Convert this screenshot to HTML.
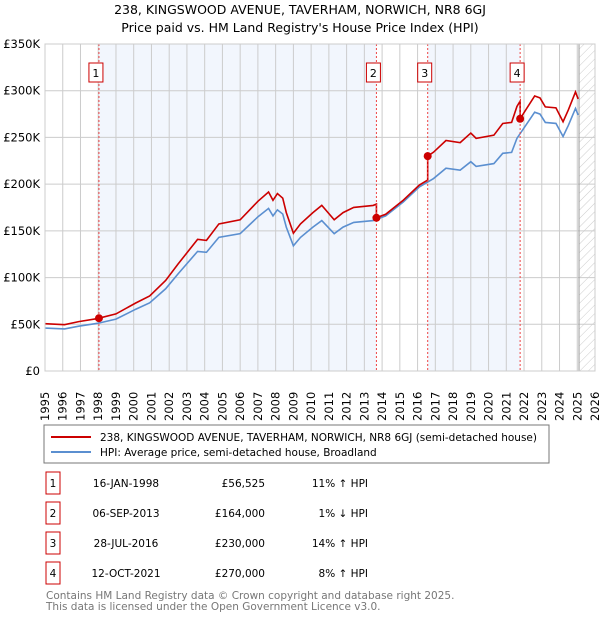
<!DOCTYPE html>
<html><head><meta charset="utf-8"><style>
body{margin:0;background:#fff;font-family:"Liberation Sans","DejaVu Sans",sans-serif;}
svg text{font-family:"DejaVu Sans","Liberation Sans",sans-serif;}
</style></head><body>
<svg id="c" width="600" height="620" viewBox="0 0 600 620" xmlns="http://www.w3.org/2000/svg">
<text x="300" y="14" text-anchor="middle" font-size="12.5">238, KINGSWOOD AVENUE, TAVERHAM, NORWICH, NR8 6GJ</text>
<text x="300" y="32" text-anchor="middle" font-size="12.5">Price paid vs. HM Land Registry's House Price Index (HPI)</text>
<g id="plot"></g>
<rect x="44" y="425" width="505" height="38" fill="#fff" stroke="#777"/>
<line x1="51" y1="437" x2="91" y2="437" stroke="#cc0000" stroke-width="2"/>
<text x="100" y="441" font-size="10.5">238, KINGSWOOD AVENUE, TAVERHAM, NORWICH, NR8 6GJ (semi-detached house)</text>
<line x1="51" y1="452" x2="91" y2="452" stroke="#5b8fd0" stroke-width="2"/>
<text x="100" y="456" font-size="10.5">HPI: Average price, semi-detached house, Broadland</text>
<g id="table" font-size="10.5"></g>
<text x="46" y="599" font-size="10.5" fill="#777">Contains HM Land Registry data © Crown copyright and database right 2025.</text>
<text x="46" y="610" font-size="10.5" fill="#777">This data is licensed under the Open Government Licence v3.0.</text>
</svg>
<script>
const hpiYears=[1995.0,1996.1,1996.9,1997.96,1999.0,2000.1,2000.9,2001.8,2002.5,2003.6,2004.1,2004.8,2006.0,2006.5,2007.0,2007.6,2007.85,2008.1,2008.4,2008.6,2009.0,2009.4,2010.1,2010.6,2011.3,2011.8,2012.4,2013.5,2014.2,2015.2,2016.1,2016.9,2017.6,2018.4,2019.0,2019.3,2020.3,2020.8,2021.3,2021.6,2022.1,2022.6,2022.9,2023.2,2023.8,2024.2,2024.5,2024.9,2025.05];
const hpiValues=[46,45,48,51,55.5,66,73,88,104,128,127,143,147,156,165,174,166,172.5,168,154,134,143,154,161,147,154,159,161,166,181,197,206,217,215,224,219,222,233,234,249,263,277,275,266,265,251,263,281,274];
const saleDates=[1998.04,2013.68,2016.57,2021.78];
const salePrices=[56.525,164,230,270];
const saleLabels=["1","2","3","4"];
const saleDateText=["16-JAN-1998","06-SEP-2013","28-JUL-2016","12-OCT-2021"];
const salePriceText=["£56,525","£164,000","£230,000","£270,000"];
const saleHpiText=["11% \u2191 HPI","1% \u2193 HPI","14% \u2191 HPI","8% \u2191 HPI"];
const yTicks=[0,50,100,150,200,250,300,350];
const yTickLabels=["£0","£50K","£100K","£150K","£200K","£250K","£300K","£350K"];
const xTicks=[1995,1996,1997,1998,1999,2000,2001,2002,2003,2004,2005,2006,2007,2008,2009,2010,2011,2012,2013,2014,2015,2016,2017,2018,2019,2020,2021,2022,2023,2024,2025,2026];

const NS="http://www.w3.org/2000/svg";
const X0=45,X1=595,Y0=371,Y1=44;
const xs=y=>X0+(y-1995)/31*(X1-X0);
const ys=v=>Y0-v/350*(Y0-Y1);
const plot=document.getElementById('plot');
function mk(t,a,p){const e=document.createElementNS(NS,t);for(const k in a)e.setAttribute(k,a[k]);(p||plot).appendChild(e);return e;}
function hpiAt(t){if(t<=hpiYears[0])return hpiValues[0];for(let i=1;i<hpiYears.length;i++){if(t<=hpiYears[i]){const f=(t-hpiYears[i-1])/(hpiYears[i]-hpiYears[i-1]);return hpiValues[i-1]+f*(hpiValues[i]-hpiValues[i-1]);}}return hpiValues[hpiValues.length-1];}

// shading
for(let i=0;i<saleDates.length;i+=2){
  const e=mk('rect',{x:xs(saleDates[i]),y:Y1,width:xs(saleDates[i+1])-xs(saleDates[i]),height:Y0-Y1,fill:'#f2f6fd'});
  
  
}
// hatch future
const defs=mk('defs',{});
const pat=mk('pattern',{id:'h',width:6,height:6,patternUnits:'userSpaceOnUse',patternTransform:'rotate(45)'},defs);
mk('line',{x1:0,y1:0,x2:0,y2:6,stroke:'#ccc','stroke-width':1},pat);
const hx=xs(2025.1);
const hr=mk('rect',{x:hx,y:Y1,width:X1-hx,height:Y0-Y1,fill:'url(#h)'});


// grid
xTicks.forEach(t=>{
  const l=mk('line',{x1:xs(t),x2:xs(t),y1:Y1,y2:Y0,stroke:'#ccc','stroke-width':1});
  
  
  const tx=mk('text',{x:0,y:0,'font-size':11.5,transform:`translate(${xs(t)+4},${Y0+50}) rotate(-90)`});
  tx.textContent=t;
  
  
});
yTicks.forEach((t,i)=>{
  const l=mk('line',{x1:X0,x2:X1,y1:ys(t),y2:ys(t),stroke:'#ccc','stroke-width':1});
  
  
  const tx=mk('text',{x:40,y:ys(t)+4,'font-size':11.5,'text-anchor':'end'});
  tx.textContent=yTickLabels[i];
  
  
});
mk('line',{x1:hx,x2:hx,y1:Y1,y2:Y0,stroke:'#999','stroke-width':1});
// HPI line
const hp=mk('polyline',{points:hpiYears.map((y,i)=>xs(y)+','+ys(hpiValues[i])).join(' '),fill:'none',stroke:'#5b8fd0','stroke-width':1.6});


// property line derived from sales indexed by HPI
const ratios=saleDates.map((d,i)=>salePrices[i]/hpiAt(d));
const segT=[hpiYears[0]].concat(hpiYears);
let pts=[];
const allT=hpiYears.concat(saleDates).sort((a,b)=>a-b);
allT.forEach(t=>{
  let k=0;for(let i=0;i<saleDates.length;i++)if(t>=saleDates[i])k=i;
  if(saleDates.indexOf(t)>0){const pk=k-1;pts.push(xs(t)+','+ys(hpiAt(t)*ratios[pk]));}
  pts.push(xs(t)+','+ys(hpiAt(t)*ratios[k]));
});
const rp=mk('polyline',{points:pts.join(' '),fill:'none',stroke:'#cc0000','stroke-width':1.6});


// sales
saleDates.forEach((d,i)=>{
  const l=mk('line',{x1:xs(d),x2:xs(d),y1:Y1,y2:Y0,stroke:'#ee4444','stroke-width':1,'stroke-dasharray':'2,2'});
  
  
  const c=mk('circle',{cx:xs(d),cy:ys(salePrices[i]),r:4,fill:'#cc0000'});
  
  
  const b=mk('rect',{x:xs(d)-10,y:63,width:14,height:19,fill:'#fff',stroke:'#cc0000'});
  
  
  const t=mk('text',{x:xs(d)-3,y:77,'font-size':11,'text-anchor':'middle'});
  t.textContent=saleLabels[i];
  
  
});
mk('rect',{x:X0,y:Y1,width:X1-X0,height:Y0-Y1,fill:'none',stroke:'#ccc'});
// table
const tb=document.getElementById('table');
saleDates.forEach((d,i)=>{
  const cy=483+i*30;
  const b=mk('rect',{x:46,y:cy-11,width:14,height:22,fill:'#fff',stroke:'#cc0000'},tb);
  
  
  const cells=[[53,'middle',saleLabels[i]],[126,'middle',saleDateText[i]],[265,'end',salePriceText[i]],[368,'end',saleHpiText[i]]];
  const names=['table-row-number','table-sale-date','table-sale-price','table-hpi-diff'];
  cells.forEach((c,j)=>{
    const t=mk('text',{x:c[0],y:cy+4,'text-anchor':c[1]},tb);
    t.textContent=c[2];
    
    
  });
});
</script>
</body></html>
